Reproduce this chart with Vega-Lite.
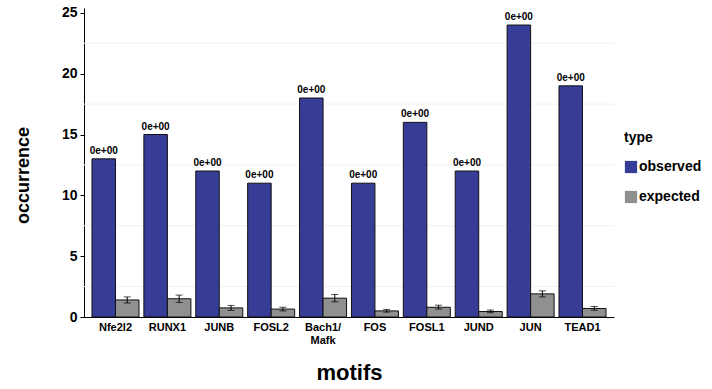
{
  "$schema": "https://vega.github.io/schema/vega-lite/v6.json",
  "width": 530,
  "height": 309,
  "autosize": {"type": "none"},
  "padding": {"left": 84, "top": 8, "right": 98, "bottom": 72},
  "config": {"font": "Liberation Sans", "view": {"stroke": null}},
  "datasets": {
    "bars": [
      {"motif": "Nfe2l2", "type": "observed", "value": 13, "label": "0e+00"},
      {"motif": "Nfe2l2", "type": "expected", "value": 1.4, "lo": 1.15, "hi": 1.65},
      {"motif": "RUNX1", "type": "observed", "value": 15, "label": "0e+00"},
      {"motif": "RUNX1", "type": "expected", "value": 1.5, "lo": 1.2, "hi": 1.8},
      {"motif": "JUNB", "type": "observed", "value": 12, "label": "0e+00"},
      {"motif": "JUNB", "type": "expected", "value": 0.75, "lo": 0.55, "hi": 0.95},
      {"motif": "FOSL2", "type": "observed", "value": 11, "label": "0e+00"},
      {"motif": "FOSL2", "type": "expected", "value": 0.65, "lo": 0.5, "hi": 0.8},
      {"motif": "Bach1/Mafk", "type": "observed", "value": 18, "label": "0e+00"},
      {"motif": "Bach1/Mafk", "type": "expected", "value": 1.55, "lo": 1.25, "hi": 1.85},
      {"motif": "FOS", "type": "observed", "value": 11, "label": "0e+00"},
      {"motif": "FOS", "type": "expected", "value": 0.5, "lo": 0.4, "hi": 0.62},
      {"motif": "FOSL1", "type": "observed", "value": 16, "label": "0e+00"},
      {"motif": "FOSL1", "type": "expected", "value": 0.8, "lo": 0.65, "hi": 0.97},
      {"motif": "JUND", "type": "observed", "value": 12, "label": "0e+00"},
      {"motif": "JUND", "type": "expected", "value": 0.45, "lo": 0.35, "hi": 0.57},
      {"motif": "JUN", "type": "observed", "value": 24, "label": "0e+00"},
      {"motif": "JUN", "type": "expected", "value": 1.9, "lo": 1.65, "hi": 2.15},
      {"motif": "TEAD1", "type": "observed", "value": 19, "label": "0e+00"},
      {"motif": "TEAD1", "type": "expected", "value": 0.7, "lo": 0.55, "hi": 0.87}
    ],
    "grid": [{"v": 2.5}, {"v": 7.5}, {"v": 12.5}, {"v": 17.5}, {"v": 22.5}]
  },
  "layer": [
    {
      "data": {"name": "grid"},
      "mark": {"type": "rule", "color": "#f0f0f0", "strokeWidth": 1},
      "encoding": {
        "y": {"field": "v", "type": "quantitative", "title": "occurrence"}
      }
    },
    {
      "data": {"name": "bars"},
      "mark": {"type": "bar", "stroke": "#111111", "strokeWidth": 1},
      "encoding": {
        "x": {
          "field": "motif", "type": "nominal", "sort": null, "title": "motifs",
          "scale": {"paddingInner": 0.094, "paddingOuter": 0.154},
          "axis": {
            "titleFontSize": 22, "titleFontWeight": "bold", "titlePadding": 17, "titleColor": "#000000",
            "labelAngle": 0, "labelFontSize": 11, "labelFontWeight": "bold", "labelColor": "#000000", "labelPadding": 4,
            "labelLineHeight": 13, "labelDx": -6,
            "labelExpr": "datum.label == 'Bach1/Mafk' ? ['Bach1/', 'Mafk'] : datum.label",
            "ticks": false, "domain": true, "domainColor": "#000000", "grid": false
          }
        },
        "xOffset": {"field": "type", "type": "nominal", "scale": {"domain": ["observed", "expected"]}},
        "y": {
          "field": "value", "type": "quantitative", "title": "occurrence",
          "scale": {"domain": [0, 25.4], "nice": false},
          "axis": {
            "titleFontSize": 18, "titleFontWeight": "bold", "titlePadding": 29, "titleColor": "#000000", "titleY": 167,
            "values": [0, 5, 10, 15, 20, 25], "labelFontSize": 14, "labelFontWeight": "bold", "labelColor": "#000000",
            "labelPadding": 3, "tickSize": 4, "tickColor": "#000000", "domainColor": "#000000", "grid": false
          }
        },
        "color": {
          "field": "type", "type": "nominal",
          "scale": {"domain": ["observed", "expected"], "range": ["#373c96", "#8f908f"]},
          "legend": {
            "orient": "none", "legendX": 540, "legendY": 123, "title": "type",
            "titleFontSize": 14, "titleFontWeight": "bold", "titleColor": "#000000", "titlePadding": 15,
            "labelFontSize": 14, "labelFontWeight": "bold", "labelColor": "#000000", "labelOffset": 1,
            "symbolType": "square", "symbolSize": 150, "symbolStrokeWidth": 0, "symbolOpacity": 1, "rowPadding": 16
          }
        }
      }
    },
    {
      "data": {"name": "bars"},
      "transform": [{"filter": "datum.type == 'observed'"}],
      "mark": {"type": "text", "baseline": "bottom", "dy": -3, "fontSize": 10, "fontWeight": "bold", "color": "#000000"},
      "encoding": {
        "x": {"field": "motif", "type": "nominal", "sort": null, "title": "motifs"},
        "xOffset": {"field": "type", "type": "nominal"},
        "y": {"field": "value", "type": "quantitative", "title": "occurrence"},
        "text": {"field": "label"}
      }
    },
    {
      "data": {"name": "bars"},
      "transform": [{"filter": "datum.type == 'expected'"}],
      "mark": {"type": "rule", "color": "#000000", "strokeWidth": 1},
      "encoding": {
        "x": {"field": "motif", "type": "nominal", "sort": null, "title": "motifs"},
        "xOffset": {"field": "type", "type": "nominal"},
        "y": {"field": "lo", "type": "quantitative", "title": "occurrence"},
        "y2": {"field": "hi"}
      }
    },
    {
      "data": {"name": "bars"},
      "transform": [{"filter": "datum.type == 'expected'"}],
      "mark": {"type": "tick", "color": "#000000", "size": 7, "thickness": 1},
      "encoding": {
        "x": {"field": "motif", "type": "nominal", "sort": null, "title": "motifs"},
        "xOffset": {"field": "type", "type": "nominal"},
        "y": {"field": "lo", "type": "quantitative", "title": "occurrence"}
      }
    },
    {
      "data": {"name": "bars"},
      "transform": [{"filter": "datum.type == 'expected'"}],
      "mark": {"type": "tick", "color": "#000000", "size": 7, "thickness": 1},
      "encoding": {
        "x": {"field": "motif", "type": "nominal", "sort": null, "title": "motifs"},
        "xOffset": {"field": "type", "type": "nominal"},
        "y": {"field": "hi", "type": "quantitative", "title": "occurrence"}
      }
    }
  ]
}
